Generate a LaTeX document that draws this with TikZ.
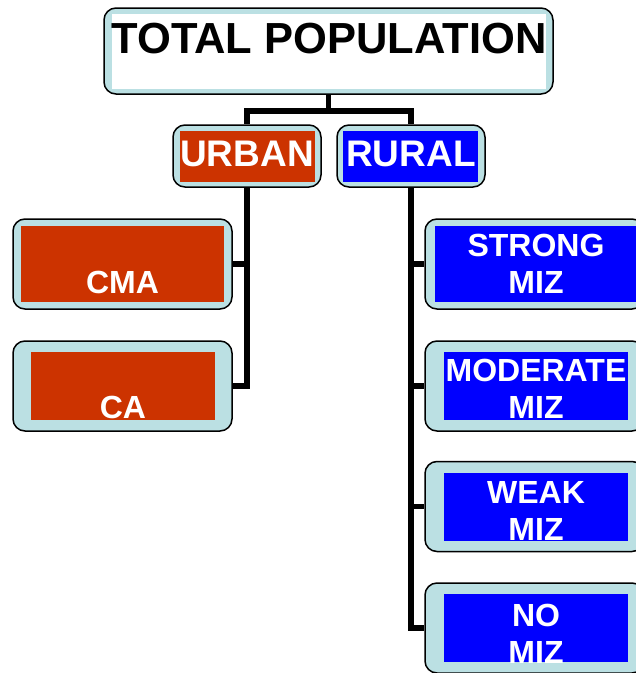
\documentclass[tikz,border=0pt]{standalone}
\usepackage{fontspec}
\setmainfont{Liberation Sans}
\usetikzlibrary{positioning}

\definecolor{paleblue}{HTML}{BBE0E3}
\definecolor{urbanred}{HTML}{CC3300}
\definecolor{ruralblue}{HTML}{0000FF}

\tikzset{
  frame/.style={draw=black, line width=1.5pt, rounded corners=12pt, fill=paleblue,
    inner sep=0pt, minimum width=219pt, minimum height=90pt},
  smallframe/.style={frame, minimum width=148pt, minimum height=62pt},
  widepanel/.style={inner sep=0pt, minimum width=203pt, minimum height=76pt},
  narrowpanel/.style={inner sep=0pt, minimum width=184pt, minimum height=68pt},
  caption/.style={text=white, align=center, inner sep=0pt,
    font=\bfseries\fontsize{32}{37}\selectfont},
  branch/.style={line width=5.5pt},
}

\begin{document}
\begin{tikzpicture}[x=1pt,y=-1pt]

    % page frame, boxes on the right run off it
    \useasboundingbox (0,0) rectangle (636,673);
    \clip (0,0) rectangle (636,673);

    % top box
    \node [frame, minimum width=449pt, minimum height=86pt] (total) at (328.5,51) {};
    \node [fill=white, inner sep=0pt, minimum width=434pt, minimum height=75pt] (total-in) at (329,51.5) {};
    \node [inner sep=0pt, font=\bfseries\fontsize{43.5}{50}\selectfont] (total-txt) at (329,39) {TOTAL POPULATION};

    % urban and rural
    \node [smallframe] (urban) at (247,156) {};
    \node [fill=urbanred, inner sep=0pt, minimum width=135pt, minimum height=51pt] (urban-in) at (247.5,156.5) {};
    \node [caption, font=\bfseries\fontsize{37}{40}\selectfont] (urban-txt) at (247,153.5) {URBAN};

    \node [smallframe] (rural) at (411,156) {};
    \node [fill=ruralblue, inner sep=0pt, minimum width=135pt, minimum height=51pt] (rural-in) at (410.5,156.5) {};
    \node [caption, font=\bfseries\fontsize{37}{40}\selectfont] (rural-txt) at (411,153.5) {RURAL};

    % urban parts
    \node [frame] (cma) at (122.5,264) {};
    \node [widepanel, fill=urbanred] (cma-in) at (122.5,264) {};
    \node [caption] (cma-txt) at (122.5,282.5) {CMA};

    \node [frame] (ca) at (122.5,386) {};
    \node [narrowpanel, fill=urbanred] (ca-in) at (123,386) {};
    \node [caption] (ca-txt) at (123,407.5) {CA};

    % rural parts
    \foreach \name/\y/\panel/\ty/\txt in {strong/264/widepanel/264/STRONG,
        moderate/386/narrowpanel/389/MODERATE, weak/506.5/narrowpanel/511/WEAK,
        nomiz/628/narrowpanel/633.5/NO} {
      \node [frame] (\name) at (534.5,\y) {};
      \node [\panel, fill=ruralblue] (\name-in) at (536,\y) {};
      \node [caption] (\name-txt) at (536,\ty) {\txt\\MIZ};
    }

    % connectors
    \draw [branch] (total.south) -- ++(0,16) coordinate (split);
    \draw [branch] (split) -| (urban.north);
    \draw [branch] (split) -| (rural.north);

    \draw [branch] (urban.south) |- (ca.east);
    \draw [branch] (urban.south |- cma.east) -- (cma.east);

    \draw [branch] (rural.south) |- (nomiz.west);
    \foreach \name in {strong,moderate,weak}
      \draw [branch] (rural.south |- \name.west) -- (\name.west);

\end{tikzpicture}
\end{document}
